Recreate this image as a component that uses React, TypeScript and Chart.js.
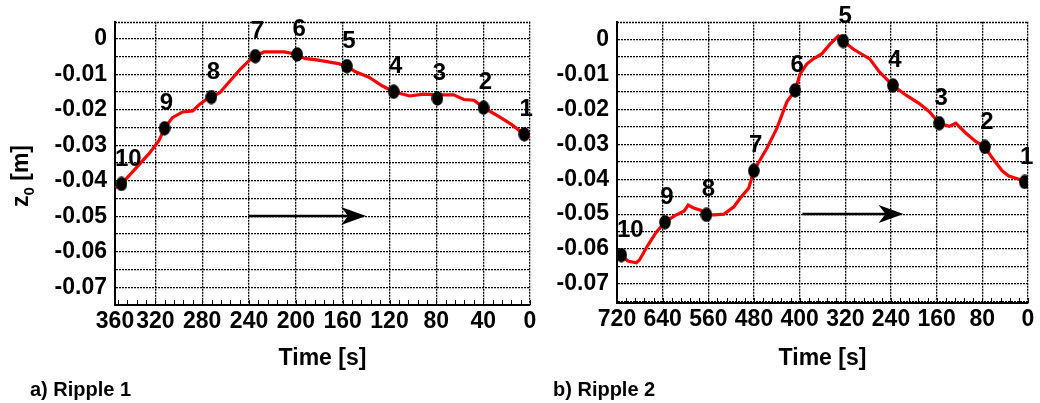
import React, { useEffect, useRef } from "react";
import { Chart, registerables } from "chart.js";

Chart.register(...registerables);

const FONT_FAMILY = "'Liberation Sans', Arial, Helvetica, sans-serif";

// ---------------- Ripple 1 ----------------
const ripple1Time = [354, 349, 337.4, 325.8, 317.1, 312.2, 305.5, 296.8, 288.1, 282.4, 276.6, 272.2, 265, 256.3, 247.6, 238.9, 234.6, 227.3, 209.9, 198.9, 192.6, 181, 172.3, 163.6, 156.4, 149.1, 137.6, 126, 116.4, 102.8, 91.2, 79.1, 65.2, 56.5, 47.8, 39.7, 27.5, 15.9, 4.9, 0];
const ripple1Z = [-0.0419, -0.0409, -0.0367, -0.0325, -0.0288, -0.0252, -0.0222, -0.0206, -0.0203, -0.0185, -0.0171, -0.0164, -0.0152, -0.0119, -0.0086, -0.0058, -0.0049, -0.0037, -0.0037, -0.0044, -0.0055, -0.006, -0.0065, -0.007, -0.0077, -0.0093, -0.0108, -0.0133, -0.0149, -0.0161, -0.0156, -0.0158, -0.0158, -0.0171, -0.0173, -0.0194, -0.0217, -0.0241, -0.0269, -0.0278];
const ripple1MarkerTime = [4.9, 39.7, 79.1, 116.4, 156.4, 198.9, 234.6, 272.2, 312.2, 349];
const ripple1MarkerZ = [-0.0269, -0.0194, -0.0168, -0.0149, -0.0077, -0.0044, -0.0049, -0.0164, -0.0252, -0.0409];
const ripple1TickValues = [0, 40, 80, 120, 160, 200, 240, 280, 320, 354.5];
const ripple1TickLabels = ["0", "40", "80", "120", "160", "200", "240", "280", "320", "360"];
const ripple1Arrow = [240, 140];
const ripple1ArrowZ = -0.05;

// ---------------- Ripple 2 ----------------
const ripple2Time = [718, 712.5, 700.9, 686.4, 680.6, 666, 651.5, 635.9, 619.6, 602.2, 595.3, 584.8, 573.2, 563.4, 550, 532.6, 515.2, 503.6, 489.1, 480.4, 457.2, 439.8, 422.4, 407.9, 399.2, 387.6, 376, 361.5, 346.9, 332.4, 323.7, 306.3, 277.3, 259.9, 236.7, 213.5, 190.3, 172.9, 155.5, 138.1, 126.5, 109.1, 91.7, 75.4, 62.7, 45.3, 33.7, 16.2, 5.8, 0];
const ripple2Z = [-0.062, -0.0617, -0.0634, -0.0639, -0.0631, -0.0589, -0.0552, -0.0523, -0.0505, -0.0491, -0.0474, -0.0483, -0.0489, -0.0502, -0.0502, -0.05, -0.0479, -0.0453, -0.0425, -0.0376, -0.0311, -0.0254, -0.0179, -0.0146, -0.0099, -0.0071, -0.0056, -0.0042, -0.0014, 0.0009, -0.0005, -0.0028, -0.0056, -0.0094, -0.0132, -0.016, -0.0184, -0.0207, -0.024, -0.0249, -0.024, -0.0268, -0.0292, -0.0308, -0.0339, -0.0376, -0.0391, -0.04, -0.0408, -0.0412];
const ripple2MarkerTime = [5.8, 75.4, 155.5, 236.7, 323.7, 407.9, 480.4, 563.4, 635.9, 712.5];
const ripple2MarkerZ = [-0.0408, -0.0308, -0.024, -0.0132, -0.0005, -0.0146, -0.0376, -0.0502, -0.0523, -0.0617];
const ripple2TickValues = [0, 80, 160, 240, 320, 400, 480, 560, 640, 720];
const ripple2TickLabels = ["0", "80", "160", "240", "320", "400", "480", "560", "640", "720"];
const ripple2Arrow = [395, 218];
const ripple2ArrowZ = -0.05;

const markerLabels = ["1", "2", "3", "4", "5", "6", "7", "8", "9", "10"];
const zStep = 0.005;
const xTitle = "Time [s]";

type PanelProps = {
  left: number;
  width: number;
  time: number[];
  z: number[];
  markerTime: number[];
  markerZ: number[];
  tickValues: number[];
  tickLabels: string[];
  xMax: number;
  minorStep: number;
  yMin: number;
  yMax: number;
  padTop: number;
  padRight: number;
  yAxisWidth: number;
  xAxisHeight: number;
  arrow: number[];
  arrowZ: number;
  caption: string;
  captionX: number;
  yTitle: boolean;
};

const GRID_DASH = [2, 1];

function Panel(p: PanelProps) {
  const ref = useRef<HTMLCanvasElement>(null);

  useEffect(() => {
    const canvas = ref.current!;
    const sprite = document.createElement("canvas");
    sprite.width = 12;
    sprite.height = 15;
    const sctx = sprite.getContext("2d")!;
    sctx.fillStyle = "#000";
    sctx.beginPath();
    sctx.ellipse(6, 7.5, 5.8, 7.2, 0, 0, Math.PI * 2);
    sctx.fill();

    const font = { family: FONT_FAMILY, size: 23, weight: "bold" as const };

    const decor = {
      id: "decor",
      afterDraw(chart: any) {
        const { ctx, chartArea: a, scales } = chart;
        const xs = scales.x;
        const ys = scales.y;
        ctx.save();
        // dotted top frame
        ctx.strokeStyle = "#000";
        ctx.lineWidth = 1.3;
        ctx.setLineDash(GRID_DASH);
        ctx.beginPath();
        const ty = Math.round(a.top) + 0.5;
        ctx.moveTo(a.left, ty);
        ctx.lineTo(a.right, ty);
        ctx.stroke();
        ctx.setLineDash([]);
        // minor ticks on the time axis
        ctx.lineWidth = 1;
        for (let t = 0; t <= p.xMax + 1e-9; t += p.minorStep) {
          const x = Math.round(xs.getPixelForValue(t)) + 0.5;
          ctx.beginPath();
          ctx.moveTo(x, a.bottom);
          ctx.lineTo(x, a.bottom - 5);
          ctx.stroke();
        }
        // arrow
        const x1 = xs.getPixelForValue(p.arrow[0]);
        const x2 = xs.getPixelForValue(p.arrow[1]);
        const ay = Math.round(ys.getPixelForValue(p.arrowZ));
        ctx.lineWidth = 2.5;
        ctx.beginPath();
        ctx.moveTo(x1, ay);
        ctx.lineTo(x2 - 16, ay);
        ctx.stroke();
        ctx.fillStyle = "#000";
        ctx.beginPath();
        ctx.moveTo(x2, ay);
        ctx.lineTo(x2 - 25, ay - 9);
        ctx.lineTo(x2 - 18, ay);
        ctx.lineTo(x2 - 25, ay + 9);
        ctx.closePath();
        ctx.fill();
        // point labels
        ctx.font = `bold 24px ${FONT_FAMILY}`;
        ctx.textAlign = "center";
        ctx.textBaseline = "middle";
        p.markerTime.forEach((t, i) => {
          const lbl = markerLabels[i];
          let x = xs.getPixelForValue(t) + 2;
          const y = ys.getPixelForValue(p.markerZ[i]) - 25;
          const w = ctx.measureText(lbl).width;
          if (x - w / 2 < a.left) x = a.left + w / 2;
          ctx.fillText(lbl, x, y);
        });
        // y title with subscript
        if (p.yTitle) {
          ctx.save();
          ctx.translate(28, 176);
          ctx.rotate(-Math.PI / 2);
          const big = `bold 23px ${FONT_FAMILY}`;
          const small = `bold 15px ${FONT_FAMILY}`;
          ctx.textAlign = "left";
          ctx.textBaseline = "alphabetic";
          ctx.font = big;
          const wz = ctx.measureText("z").width;
          const wr = ctx.measureText(" [m]").width;
          ctx.font = small;
          const w0 = ctx.measureText("0").width;
          let x = -(wz + w0 + wr) / 2;
          ctx.font = big;
          ctx.fillText("z", x, 0);
          x += wz;
          ctx.font = small;
          ctx.fillText("0", x, 6);
          x += w0;
          ctx.font = big;
          ctx.fillText(" [m]", x, 0);
          ctx.restore();
        }
        // caption
        ctx.font = `bold 20px ${FONT_FAMILY}`;
        ctx.textAlign = "left";
        ctx.textBaseline = "alphabetic";
        ctx.fillText(p.caption, p.captionX, 396);
        ctx.restore();
      },
    };

    const chart = new Chart(canvas, {
      type: "scatter",
      data: {
        datasets: [
          {
            data: p.markerTime.map((t, i) => ({ x: t, y: p.markerZ[i] })),
            pointStyle: sprite as any,
            pointRadius: 7,
            pointHoverRadius: 7,
            backgroundColor: "#000",
            borderWidth: 0,
            showLine: false,
            order: 0,
          } as any,
          {
            data: p.time.map((t, i) => ({ x: t, y: p.z[i] })),
            showLine: true,
            borderColor: "#ff0000",
            borderWidth: 3.2,
            pointRadius: 0,
            pointHoverRadius: 0,
            tension: 0,
            order: 1,
          } as any,
        ],
      },
      options: {
        animation: false,
        responsive: false,
        maintainAspectRatio: false,
        events: [],
        layout: { padding: { left: 0, right: p.padRight, top: p.padTop, bottom: 0 } },
        plugins: { legend: { display: false }, tooltip: { enabled: false } },
        scales: {
          x: {
            type: "linear",
            reverse: true,
            min: 0,
            max: p.xMax,
            afterBuildTicks: (s: any) => {
              s.ticks = p.tickValues.map((v) => ({ value: v }));
            },
            afterFit: (s: any) => {
              s.height = p.xAxisHeight;
            },
            ticks: {
              autoSkip: false,
              maxRotation: 0,
              color: "#000",
              font,
              padding: 3,
              callback: (v: any) => {
                const i = p.tickValues.indexOf(Number(v));
                return i >= 0 ? p.tickLabels[i] : "";
              },
            },
            grid: { color: "#000", lineWidth: 1.3, drawTicks: false },
            border: { display: true, color: "#000", width: 2, dash: GRID_DASH },
            title: { display: true, text: xTitle, color: "#000", font, padding: { top: 0, bottom: 31 } },
          },
          y: {
            type: "linear",
            min: p.yMin,
            max: p.yMax,
            afterFit: (s: any) => {
              s.width = p.yAxisWidth;
            },
            ticks: {
              stepSize: zStep,
              includeBounds: false,
              autoSkip: false,
              color: "#000",
              font,
              padding: 8,
              callback: (v: any) => {
                const k = Math.round(Number(v) * 1000);
                if (k % 10 !== 0) return "";
                return k === 0 ? "0" : String(k / 1000);
              },
            },
            grid: { color: "#000", lineWidth: 1.3, drawTicks: false },
            border: { display: true, color: "#000", width: 2, dash: GRID_DASH },
          },
        },
      } as any,
      plugins: [decor],
    });
    return () => chart.destroy();
  }, []);

  return (
    <canvas
      ref={ref}
      width={p.width}
      height={403}
      style={{ position: "absolute", left: p.left, top: 0, display: "block" }}
    />
  );
}

export default function App() {
  return (
    <div style={{ position: "absolute", left: 0, top: 0, width: 1040, height: 403, background: "#fff", overflow: "hidden" }}>
      <Panel
        left={0}
        width={540}
        time={ripple1Time}
        z={ripple1Z}
        markerTime={ripple1MarkerTime}
        markerZ={ripple1MarkerZ}
        tickValues={ripple1TickValues}
        tickLabels={ripple1TickLabels}
        xMax={354.5}
        minorStep={8}
        yMin={-0.075}
        yMax={0.0048}
        padTop={21}
        padRight={10}
        yAxisWidth={115}
        xAxisHeight={98}
        arrow={ripple1Arrow}
        arrowZ={ripple1ArrowZ}
        caption="a) Ripple 1"
        captionX={30}
        yTitle={true}
      />
      <Panel
        left={540}
        width={500}
        time={ripple2Time}
        z={ripple2Z}
        markerTime={ripple2MarkerTime}
        markerZ={ripple2MarkerZ}
        tickValues={ripple2TickValues}
        tickLabels={ripple2TickLabels}
        xMax={720}
        minorStep={16}
        yMin={-0.0754}
        yMax={0.00499}
        padTop={19}
        padRight={12}
        yAxisWidth={77}
        xAxisHeight={100}
        arrow={ripple2Arrow}
        arrowZ={ripple2ArrowZ}
        caption="b) Ripple 2"
        captionX={13}
        yTitle={false}
      />
    </div>
  );
}
